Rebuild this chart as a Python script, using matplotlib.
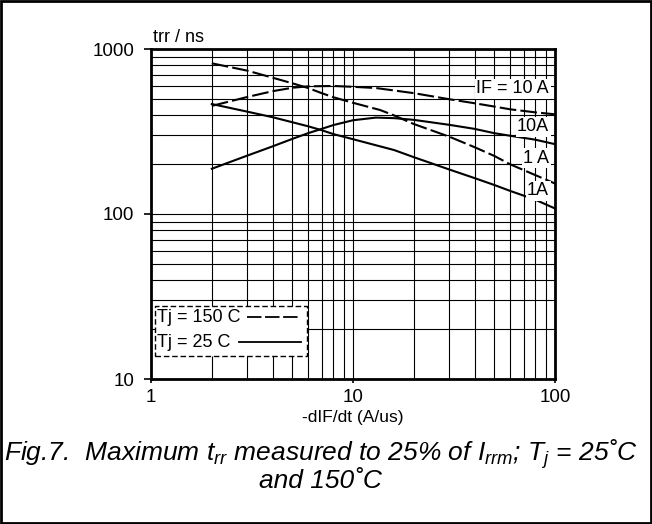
import matplotlib
matplotlib.use("Agg")
import matplotlib.pyplot as plt
from matplotlib.patches import Rectangle
from matplotlib.lines import Line2D
from matplotlib.ticker import FixedLocator, FixedFormatter, NullFormatter, LogLocator

plt.rcParams['font.family'] = ['Liberation Sans', 'DejaVu Sans']
plt.rcParams['mathtext.fontset'] = 'custom'
plt.rcParams['mathtext.it'] = 'Liberation Sans:italic'
plt.rcParams['mathtext.rm'] = 'Liberation Sans:italic'

# Tj = 25 C, IF = 10 A
x25_10 = [2, 3, 4, 5, 6, 7, 8, 10, 13, 16, 20, 30, 40, 50, 60, 80, 100]
y25_10 = [188, 226, 257, 285, 309, 328, 346, 370, 384, 381, 372, 347, 328, 309, 298, 282, 265]
# Tj = 25 C, IF = 1 A
x25_1 = [2, 3, 4, 5, 6, 7, 8, 10, 16, 20, 30, 40, 50, 60, 80, 100]
y25_1 = [464, 417, 386, 360, 340, 322, 305, 284, 244, 221, 186, 165, 150, 138, 122, 108]
# Tj = 150 C, IF = 10 A
x150_10 = [2, 3, 4, 5, 6, 8, 10, 13, 20, 30, 40, 50, 60, 80, 100]
y150_10 = [452, 512, 555, 582, 594, 597, 590, 580, 540, 496, 469, 448, 431, 413, 402]
# Tj = 150 C, IF = 1 A
x150_1 = [2, 3, 4, 5, 6, 7, 8, 10, 13.6, 15.8, 20, 30, 40, 50, 60, 80, 100]
y150_1 = [819, 739, 670, 620, 580, 540, 510, 472, 427, 398, 351, 294, 254, 225, 200, 172, 153]

curve_labels = ["IF = 10 A", "10A", "1 A", "1A"]
label_y = [573, 337, 218, 138]
label_x = 93.5

xticks = [1, 10, 100]
xticklabels = ["1", "10", "100"]
yticks = [10, 100, 1000]
yticklabels = ["10", "100", "1000"]

fig = plt.figure(figsize=(6.52, 5.24), dpi=100)
ax = fig.add_axes([151/652, 1-379/524, 404/652, 330/524])
ax.set_xscale('log')
ax.set_yscale('log')
ax.set_xlim(1, 100)
ax.set_ylim(10, 1000)

dash = (0, (8, 2))
lw = 1.5
ax.plot(x150_10, y150_10, color='black', lw=lw, ls=dash, zorder=3)
ax.plot(x150_1, y150_1, color='black', lw=lw, ls=dash, zorder=3)
ax.plot(x25_10, y25_10, color='black', lw=lw, zorder=3)
ax.plot(x25_1, y25_1, color='black', lw=lw, zorder=3)

for t, yy in zip(curve_labels, label_y):
    ax.text(label_x, yy, t, ha='right', va='center', fontsize=13, zorder=4,
            bbox=dict(facecolor='white', edgecolor='none', pad=1.0))

ax.xaxis.set_major_locator(FixedLocator(xticks))
ax.xaxis.set_major_formatter(FixedFormatter(xticklabels))
ax.yaxis.set_major_locator(FixedLocator(yticks))
ax.yaxis.set_major_formatter(FixedFormatter(yticklabels))
ax.xaxis.set_minor_locator(LogLocator(base=10, subs=range(2, 10)))
ax.yaxis.set_minor_locator(LogLocator(base=10, subs=range(2, 10)))
ax.xaxis.set_minor_formatter(NullFormatter())
ax.yaxis.set_minor_formatter(NullFormatter())
ax.tick_params(axis='y', which='major', length=5, width=1.2, pad=7, labelsize=13.5, direction='out')
ax.tick_params(axis='x', which='major', length=3, width=1.2, pad=4, labelsize=13.5, direction='out')
ax.tick_params(which='minor', length=0)
ax.grid(which='both', color='black', lw=0.8, zorder=1)
for s in ax.spines.values():
    s.set_linewidth(2)
ax.set_axisbelow(True)

ax.set_xlabel("-dIF/dt (A/us)", fontsize=12.5, labelpad=3)
fig.text(153/652, 1-37/524, "trr / ns", fontsize=13, ha='left', va='center')

# legend box
ax.add_patch(Rectangle((0.01, 0.07), 0.376, 0.151, transform=ax.transAxes,
                       facecolor='white', edgecolor='black', lw=1, ls=(0, (4, 2)), zorder=5))
ax.text(0.015, 0.185, "Tj = 150 C", transform=ax.transAxes, fontsize=13,
        ha='left', va='center', zorder=6)
ax.add_line(Line2D([0.238, 0.369], [0.188, 0.188], transform=ax.transAxes,
                   color='black', lw=1.3, ls=dash, zorder=6))
ax.text(0.015, 0.110, "Tj = 25 C", transform=ax.transAxes, fontsize=13,
        ha='left', va='center', zorder=6)
ax.add_line(Line2D([0.218, 0.372], [0.113, 0.113], transform=ax.transAxes,
                   color='black', lw=1.3, zorder=6))

# caption
fig.text(0.492, 1-454/524,
         r"Fig.7.  Maximum $t_{rr}$ measured to 25% of $I_{rrm}$; $T_{j}$ = 25˚C",
         fontsize=19, style='italic', ha='center', va='center')
fig.text(0.492, 1-481/524, "and 150˚C", fontsize=19, style='italic',
         ha='center', va='center')

# outer border
fig.add_artist(Rectangle((0.002, 0.002), 0.996, 0.996, transform=fig.transFigure,
                         facecolor='none', edgecolor='black', lw=2))

fig.savefig("out.png", dpi=100)
